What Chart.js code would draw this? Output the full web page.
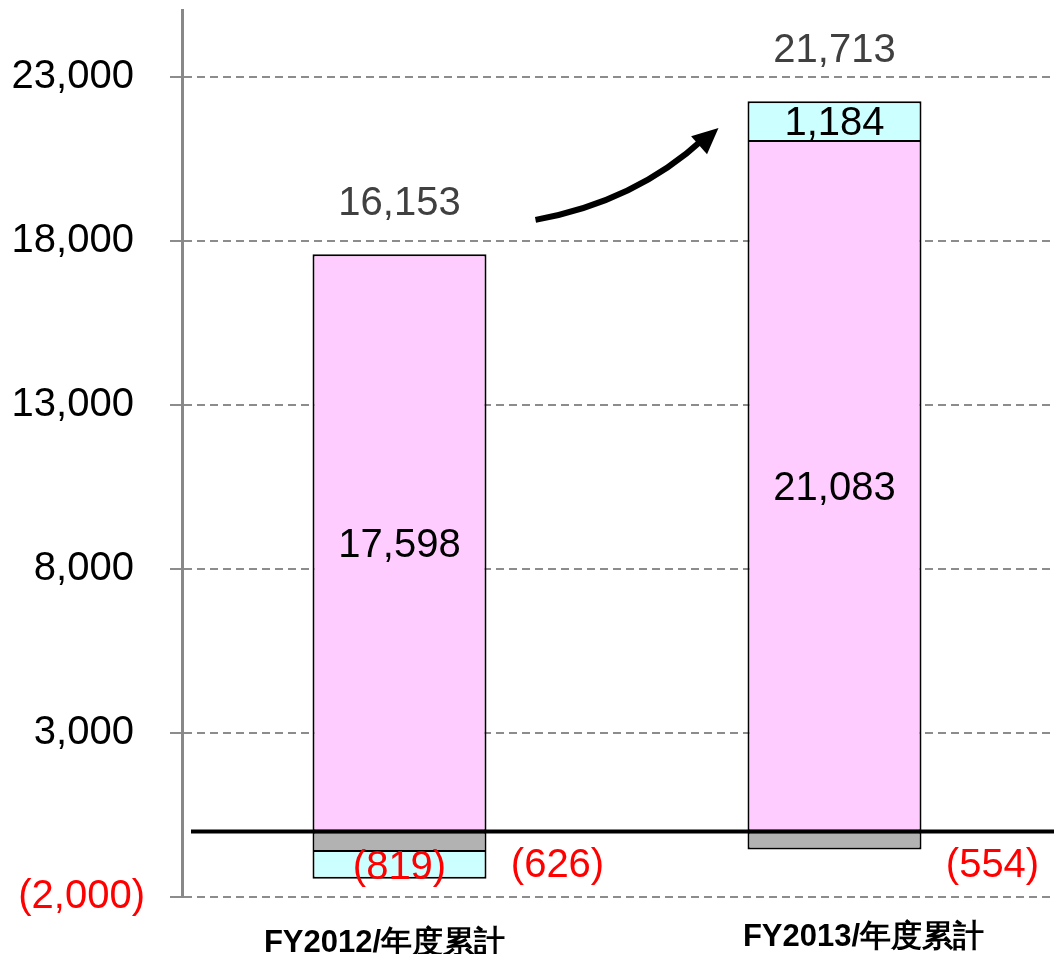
<!DOCTYPE html>
<html>
<head>
<meta charset="utf-8">
<script src="https://cdn.jsdelivr.net/npm/chart.js@4.4.0/dist/chart.umd.min.js"></script>
<style>
html,body{margin:0;padding:0;background:#fff;}
#wrap{width:1054px;height:954px;position:relative;}
</style>
</head>
<body>
<div id="wrap"><canvas id="c"></canvas></div>
<script>
// ---- data ----
const categories = ['FY2012/年度累計', 'FY2013/年度累計'];
const mainValues = [17598, 21083];      // pink
const lossValues = [-626, -554];        // gray
const otherValues = [-819, 1184];       // cyan
const yTicks = [-2000, 3000, 8000, 13000, 18000, 23000];
const yMin = -2000, yMax = 25050;

function fmt(v) {
  const s = Math.abs(v).toLocaleString('en-US');
  return v < 0 ? '(' + s + ')' : s;
}
const FONT = '"Liberation Sans", Arial, sans-serif';

const labelPlugin = {
  id: 'labels',
  afterDatasetsDraw(chart) {
    const ctx = chart.ctx;
    const ys = chart.scales.y;
    const area = chart.chartArea;
    const m0 = chart.getDatasetMeta(0), m1 = chart.getDatasetMeta(1), m2 = chart.getDatasetMeta(2);
    const y0 = ys.getPixelForValue(0);
    ctx.save();
    // zero line
    ctx.strokeStyle = '#000';
    ctx.lineWidth = 4;
    ctx.beginPath();
    ctx.moveTo(area.left + 9, y0);
    ctx.lineTo(chart.width, y0);
    ctx.stroke();

    ctx.textAlign = 'center';
    ctx.textBaseline = 'middle';
    categories.forEach((c, i) => {
      const pink = m0.data[i], gray = m1.data[i], cyan = m2.data[i];
      ctx.font = '40px ' + FONT;
      ctx.fillStyle = '#000';
      ctx.fillText(fmt(mainValues[i]), pink.x, (pink.y + pink.base) / 2 + 3);
      const ov = otherValues[i];
      ctx.fillStyle = ov < 0 ? '#ff0000' : '#000';
      ctx.fillText(fmt(ov), cyan.x, (cyan.y + cyan.base) / 2 + 3);
      ctx.fillStyle = '#ff0000';
      ctx.fillText(fmt(lossValues[i]), gray.x + 158, y0 + 35);
      const total = mainValues[i] + lossValues[i] + otherValues[i];
      const top = Math.max(mainValues[i], mainValues[i] + Math.max(0, ov));
      ctx.fillStyle = '#404040';
      ctx.fillText(fmt(total), pink.x, ys.getPixelForValue(top) - 50);
      // category label (drawn per bar with the reference's slight offsets)
      ctx.font = 'bold 31px ' + FONT;
      ctx.fillStyle = '#000';
      const off = i === 0 ? [-15, 46] : [29, 40];
      ctx.fillText(c, pink.x + off[0], area.bottom + off[1]);
    });

    // arrow
    const b0 = m0.data[0], b1 = m0.data[1];
    const sx = b0.x + 136, sy = ys.getPixelForValue(18650);
    const ex = b1.x - 116, ey = ys.getPixelForValue(21450);
    const cx = sx + 100, cy = sy - 18;
    ctx.strokeStyle = '#000';
    ctx.fillStyle = '#000';
    ctx.lineWidth = 6;
    ctx.beginPath();
    ctx.moveTo(sx, sy);
    ctx.quadraticCurveTo(cx, cy, ex - 14, ey + 10);
    ctx.stroke();
    const ang = Math.atan2(ey - cy, ex - cx);
    const L = 26, W = 12;
    ctx.beginPath();
    ctx.moveTo(ex, ey);
    ctx.lineTo(ex - L * Math.cos(ang) + W * Math.sin(ang), ey - L * Math.sin(ang) - W * Math.cos(ang));
    ctx.lineTo(ex - L * Math.cos(ang) - W * Math.sin(ang), ey - L * Math.sin(ang) + W * Math.cos(ang));
    ctx.closePath();
    ctx.fill();
    ctx.restore();
  }
};

const common = { borderColor: '#000', borderWidth: 2, barPercentage: 0.4, categoryPercentage: 1 };

new Chart(document.getElementById('c'), {
  type: 'bar',
  data: {
    labels: categories,
    datasets: [
      Object.assign({ label: 'main', data: mainValues, backgroundColor: '#ffccff', borderSkipped: false }, common),
      Object.assign({ label: 'loss', data: lossValues, backgroundColor: '#b2b2b2', borderSkipped: false }, common),
      Object.assign({ label: 'other', data: otherValues, backgroundColor: '#ccffff', borderSkipped: 'start' }, common)
    ]
  },
  options: {
    responsive: true,
    maintainAspectRatio: false,
    animation: false,
    layout: { padding: { top: 10, right: 2, left: 0, bottom: 0 } },
    plugins: { legend: { display: false }, tooltip: { enabled: false } },
    scales: {
      x: {
        stacked: true,
        grid: { display: false, drawTicks: false },
        border: { display: false },
        ticks: { display: false },
        afterFit(scale) { scale.height = 57; scale.paddingLeft = 0; scale.paddingRight = 0; }
      },
      y: {
        stacked: true,
        min: yMin,
        max: yMax,
        afterBuildTicks(scale) { scale.ticks = yTicks.map(v => ({ value: v })); },
        afterFit(scale) { scale.width = 182; scale.paddingTop = 0; scale.paddingBottom = 0; },
        border: { display: true, color: '#888888', width: 3 },
        grid: {
          color: '#8c8c8c', lineWidth: 2, tickLength: 12,
          tickColor: '#8c8c8c', tickWidth: 2
        },
        ticks: {
          padding: 25,
          color: (c) => c.tick && c.tick.value < 0 ? '#ff0000' : '#000',
          font: { family: FONT, size: 40 },
          callback: (v) => v < 0 ? fmt(v) : fmt(v) + ' '
        }
      }
    }
  },
  plugins: [labelPlugin, {
    id: 'dash',
    beforeDraw(chart) { chart.scales.y.options.border.dash = [8, 5]; }
  }]
});
</script>
</body>
</html>
